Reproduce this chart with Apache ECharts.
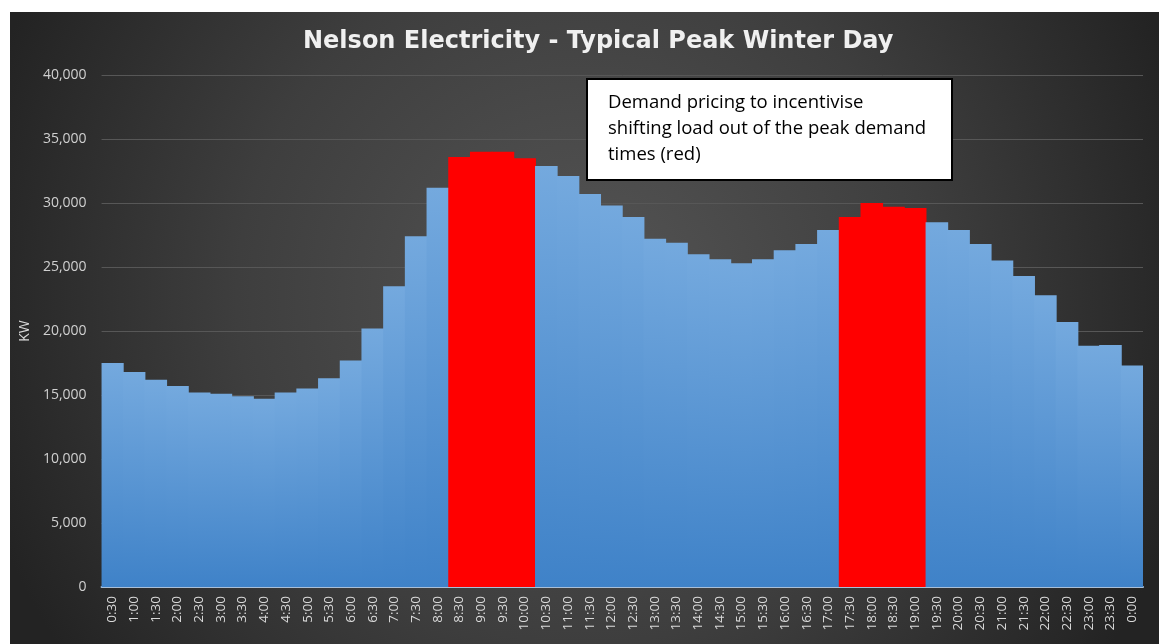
<!doctype html>
<html lang="en">
<head>
    <meta charset="utf-8" />
    <title>Nelson Electricity</title>
    <script src="https://cdn.jsdelivr.net/npm/echarts@6/dist/echarts.min.js"></script>
</head>
<style type="text/css">
    html, body { margin: 0; padding: 0; background: #ffffff; }
    #chart {
        position: absolute;
        left: 10px;
        top: 12px;
        width: 1149px;
        height: 632px;
    }
</style>
<body>
<div id="chart"></div>
<script>
    // half-hour periods, ending times
    var times = ['0:30', '1:00', '1:30', '2:00', '2:30', '3:00', '3:30', '4:00', '4:30', '5:00',
        '5:30', '6:00', '6:30', '7:00', '7:30', '8:00', '8:30', '9:00', '9:30', '10:00',
        '10:30', '11:00', '11:30', '12:00', '12:30', '13:00', '13:30', '14:00', '14:30', '15:00',
        '15:30', '16:00', '16:30', '17:00', '17:30', '18:00', '18:30', '19:00', '19:30', '20:00',
        '20:30', '21:00', '21:30', '22:00', '22:30', '23:00', '23:30', '0:00'];

    // load in kW
    var load = [17500, 16800, 16200, 15700, 15200, 15100, 14900, 14700, 15200, 15500,
        16300, 17700, 20200, 23500, 27400, 31200, 33600, 34000, 34000, 33500,
        32900, 32100, 30700, 29800, 28900, 27200, 26900, 26000, 25600, 25300,
        25600, 26300, 26800, 27900, 28900, 30000, 29700, 29600, 28500, 27900,
        26800, 25500, 24300, 22800, 20700, 18850, 18900, 17300];

    // peak demand periods shown in red
    var peakTimes = ['8:30', '9:00', '9:30', '10:00', '17:30', '18:00', '18:30', '19:00'];

    var yTicks = [0, 5000, 10000, 15000, 20000, 25000, 30000, 35000, 40000];

    var note = 'Demand pricing to incentivise\nshifting load out of the peak demand\ntimes (red)';

    var blue = {
        type: 'linear', x: 0, y: 0, x2: 0, y2: 1,
        colorStops: [
            { offset: 0, color: '#74a9de' },
            { offset: 1, color: '#3f82c8' }
        ]
    };

    var barData = load.map(function (v, i) {
        var isPeak = peakTimes.indexOf(times[i]) >= 0;
        return {
            value: v,
            itemStyle: { color: isPeak ? '#ff0000' : blue }
        };
    });

    var chart = echarts.init(document.getElementById('chart'));

    var option = {
        backgroundColor: {
            type: 'radial', x: 0.5, y: 0.45, r: 1.0,
            colorStops: [
                { offset: 0, color: '#555555' },
                { offset: 0.55, color: '#3e3e3e' },
                { offset: 1, color: '#232323' }
            ]
        },
        animation: false,
        title: {
            text: 'Nelson Electricity - Typical Peak Winter Day',
            left: 288,
            top: 13,
            textStyle: {
                color: '#f0f0f0',
                fontFamily: 'DejaVu Sans',
                fontSize: 24,
                fontWeight: 'bold'
            }
        },
        grid: {
            left: 91,
            right: 16,
            top: 63,
            bottom: 57
        },
        xAxis: {
            type: 'category',
            data: times,
            axisTick: { show: false },
            axisLine: { lineStyle: { color: '#a9bfd8', width: 2 } },
            axisLabel: {
                interval: 0,
                rotate: 90,
                color: '#d9d9d9',
                fontFamily: 'Open Sans',
                fontSize: 13.5,
                margin: 9
            }
        },
        yAxis: {
            type: 'value',
            min: yTicks[0],
            max: yTicks[yTicks.length - 1],
            interval: 5000,
            name: 'KW',
            nameLocation: 'middle',
            nameGap: 68,
            nameTextStyle: { color: '#d9d9d9', fontFamily: 'Open Sans', fontSize: 14 },
            axisLine: { show: false },
            axisTick: { show: false },
            splitLine: { lineStyle: { color: '#575757', width: 1 } },
            axisLabel: {
                color: '#d0d0d0',
                fontFamily: 'Open Sans',
                fontSize: 14,
                margin: 15,
                formatter: function (v) {
                    return v.toLocaleString('en-US');
                }
            }
        },
        series: [{
            type: 'bar',
            data: barData,
            // a touch wider than the band so neighbouring bars overlap (no seams)
            barWidth: 22.6,
            barGap: 0
        }],
        graphic: [{
            type: 'group',
            left: 576,
            top: 66,
            z: 100,
            children: [{
                type: 'rect',
                z: 100,
                shape: { x: 0, y: 0, width: 365, height: 101 },
                style: { fill: '#ffffff', stroke: '#000000', lineWidth: 2 }
            }, {
                type: 'text',
                z: 101,
                x: 21,
                y: 11,
                style: {
                    text: note,
                    fill: '#000000',
                    font: '18.5px "Open Sans"',
                    lineHeight: 26
                }
            }]
        }]
    };

    chart.setOption(option);
</script>
</body>
</html>
